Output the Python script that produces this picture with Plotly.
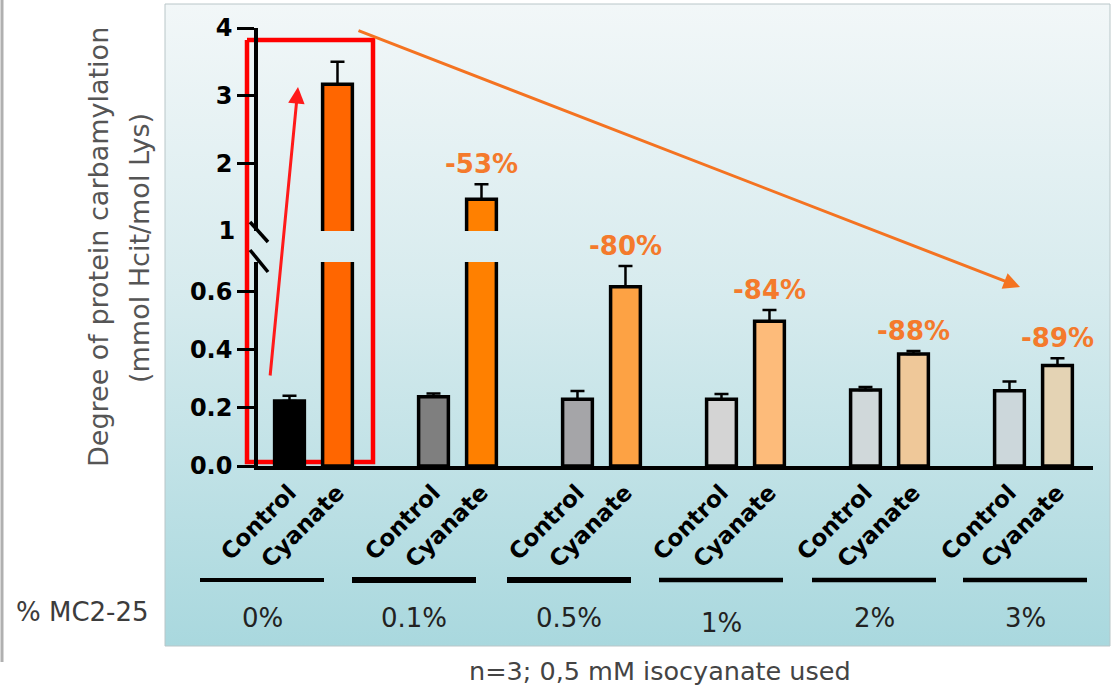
import plotly.graph_objects as go

# MC2-25 concentration groups and measured protein carbamylation (mmol Hcit / mol Lys)
groups = ["0%", "0.1%", "0.5%", "1%", "2%", "3%"]
conditions = ["Control", "Cyanate"]
control_mean = [0.223, 0.238, 0.229, 0.229, 0.261, 0.258]
control_err = [0.018, 0.011, 0.028, 0.018, 0.010, 0.032]
cyanate_mean = [3.17, 1.47, 0.615, 0.497, 0.384, 0.345]
cyanate_err = [0.33, 0.22, 0.071, 0.038, 0.011, 0.025]
reduction_labels = ["", "-53%", "-80%", "-84%", "-88%", "-89%"]

control_colors = ["#000000", "#7F7F7F", "#A5A5A8", "#D4D4D4", "#D0D8DA", "#CCD7DB"]
cyanate_colors = ["#FF6600", "#FF8000", "#FDA244", "#FDBB7A", "#EFC899", "#E4D3B4"]

W, H = 1119, 690
ORANGE_TXT = "#F47A2C"
FONT = "DejaVu Sans"

# interleave bars: control at 3*i, cyanate at 3*i + 1
xpos, vals, errs, cols, labels = [], [], [], [], []
for i in range(len(groups)):
    xpos += [3 * i, 3 * i + 1]
    vals += [control_mean[i], cyanate_mean[i]]
    errs += [control_err[i], cyanate_err[i]]
    cols += [control_colors[i], cyanate_colors[i]]
    labels += conditions

fig = go.Figure()

# --- background layer (pixel-mapped axes x / y) ---
panel_x = [165, 1110, 1110, 165, 165]
panel_y = [4, 4, 646, 646, 4]
fig.add_trace(go.Scatter(
    x=panel_x, y=panel_y, xaxis="x", yaxis="y", mode="lines",
    fill="toself", line=dict(width=1, color="#B9C6C8"),
    fillgradient=dict(type="vertical", start=4, stop=646,
                      colorscale=[[0, "#F2F7F8"], [0.45, "#D7EBEE"], [1, "#A9D8DE"]]),
    hoverinfo="skip"))
fig.add_trace(go.Scatter(
    x=[2, 2], y=[0, 662], xaxis="x", yaxis="y", mode="lines",
    line=dict(width=3, color="#B0B0B0"), hoverinfo="skip"))
# highlight frame around the untreated group
fig.add_trace(go.Scatter(
    x=[247, 373, 373, 247, 247], y=[40, 40, 462, 462, 40], xaxis="x", yaxis="y",
    mode="lines", line=dict(width=4.5, color="#FF0000"), hoverinfo="skip"))

bar_kw = dict(x=xpos, y=vals, width=0.62,
              marker=dict(color=cols, line=dict(color="black", width=3.5)),
              error_y=dict(type="data", symmetric=False, array=errs,
                           arrayminus=[0] * len(errs), color="black",
                           thickness=2.5, width=7),
              hoverinfo="skip")
# lower segment of the broken axis
fig.add_trace(go.Bar(xaxis="x2", yaxis="y2", **bar_kw))
# upper segment of the broken axis
fig.add_trace(go.Bar(xaxis="x2", yaxis="y3", **bar_kw))
# empty trace so the break-label axis gets drawn
fig.add_trace(go.Scatter(x=[None], y=[None], xaxis="x2", yaxis="y4",
                         mode="markers", hoverinfo="skip"))

axis_common = dict(showgrid=False, zeroline=False, fixedrange=True, automargin=False)
ytick_font = dict(family=FONT, size=24, color="black", weight="bold")

fig.update_layout(
    template="none",
    width=W, height=H,
    margin=dict(l=0, r=0, t=0, b=0, pad=0, autoexpand=False),
    paper_bgcolor="white", plot_bgcolor="rgba(0,0,0,0)",
    showlegend=False, hovermode=False, barmode="overlay",
    xaxis=dict(domain=[0, 1], range=[0, W], visible=False, **axis_common),
    yaxis=dict(domain=[0, 1], range=[H, 0], visible=False, **axis_common),
    xaxis2=dict(domain=[258 / W, 1093 / W], range=[-0.656, 16.74], anchor="y2",
                showline=True, linecolor="black", linewidth=4, ticks="",
                tickmode="array", tickvals=xpos, ticktext=labels, tickangle=-45,
                tickfont=dict(family=FONT, size=23, color="black", weight="bold"),
                **axis_common),
    yaxis2=dict(domain=[(H - 466) / H, (H - 262) / H], range=[0, 0.7], anchor="x2",
                showline=True, linecolor="black", linewidth=3.5,
                ticks="outside", ticklen=17, tickwidth=3, tickcolor="black",
                tickmode="array", tickvals=[0, 0.2, 0.4, 0.6],
                ticktext=["0.0", "0.2", "0.4", "0.6"], tickfont=ytick_font,
                **axis_common),
    yaxis3=dict(domain=[(H - 231) / H, (H - 28) / H], range=[1, 4], anchor="x2",
                showline=True, linecolor="black", linewidth=3.5,
                ticks="outside", ticklen=17, tickwidth=3, tickcolor="black",
                tickmode="array", tickvals=[2, 3, 4], ticktext=["2", "3", "4"],
                tickfont=ytick_font, **axis_common),
    # label at the break, without a tick mark
    yaxis4=dict(overlaying="y3", range=[1, 4], anchor="x2", side="left",
                showline=False, ticks="outside", ticklen=17, tickwidth=3,
                tickcolor="rgba(0,0,0,0)", tickmode="array", tickvals=[1],
                ticktext=["1"], tickfont=ytick_font, **axis_common),
)

# axis break marks
for (x0, y0, x1, y1) in [(250, 222, 268, 242), (250, 250, 268, 272)]:
    fig.add_shape(type="line", xref="x", yref="y", x0=x0, y0=y0, x1=x1, y1=y1,
                  line=dict(color="black", width=3.5), layer="above")

annotations = []
# reduction labels above the cyanate bars
for i, txt in enumerate(reduction_labels):
    if not txt:
        continue
    top = cyanate_mean[i] + cyanate_err[i]
    annotations.append(dict(
        text=txt, x=3 * i + 1, xref="x2", y=top, yref="y3" if top > 0.7 else "y2",
        yanchor="bottom", xanchor="center", yshift=3, showarrow=False,
        font=dict(family=FONT, size=26, color=ORANGE_TXT, weight="bold")))

# group underlines and concentration labels
group_centers_px = [262, 414, 569, 721, 874, 1025]
line_widths = [4, 6, 6, 4.5, 4.5, 4.5]
for i, g in enumerate(groups):
    cx = group_centers_px[i]
    fig.add_shape(type="line", xref="x", yref="y", x0=cx - 62, x1=cx + 62,
                  y0=580, y1=580, line=dict(color="black", width=line_widths[i]),
                  layer="above")
    annotations.append(dict(
        text=g, x=cx, y=623 if g == "1%" else 618, xref="x", yref="y",
        showarrow=False, font=dict(family=FONT, size=26, color="#222222")))

annotations += [
    dict(text="% MC2-25", x=82, y=612, xref="x", yref="y", showarrow=False,
         font=dict(family=FONT, size=26, color="#3C3C3C")),
    dict(text="Degree of protein carbamylation", x=98, y=247, xref="x", yref="y",
         textangle=-90, showarrow=False,
         font=dict(family=FONT, size=27, color="#555555")),
    dict(text="(mmol Hcit/mol Lys)", x=139, y=248, xref="x", yref="y",
         textangle=-90, showarrow=False,
         font=dict(family=FONT, size=27, color="#555555")),
    dict(text="n=3; 0,5 mM isocyanate used", x=660, y=671, xref="x", yref="y",
         showarrow=False, font=dict(family=FONT, size=25.5, color="#444444")),
    # increase arrow within the untreated group
    dict(text="", x=298, y=87, xref="x", yref="y", ax=270, ay=377, axref="x",
         ayref="y", showarrow=True, arrowhead=2, arrowsize=1.1, arrowwidth=3,
         arrowcolor="#FF1A1A", standoff=0),
    # overall decreasing trend arrow
    dict(text="", x=1020, y=287, xref="x", yref="y", ax=357, ay=30, axref="x",
         ayref="y", showarrow=True, arrowhead=2, arrowsize=1.1, arrowwidth=3,
         arrowcolor="#F47321", standoff=0),
]
fig.update_layout(annotations=annotations)

fig.write_html("out.html")
